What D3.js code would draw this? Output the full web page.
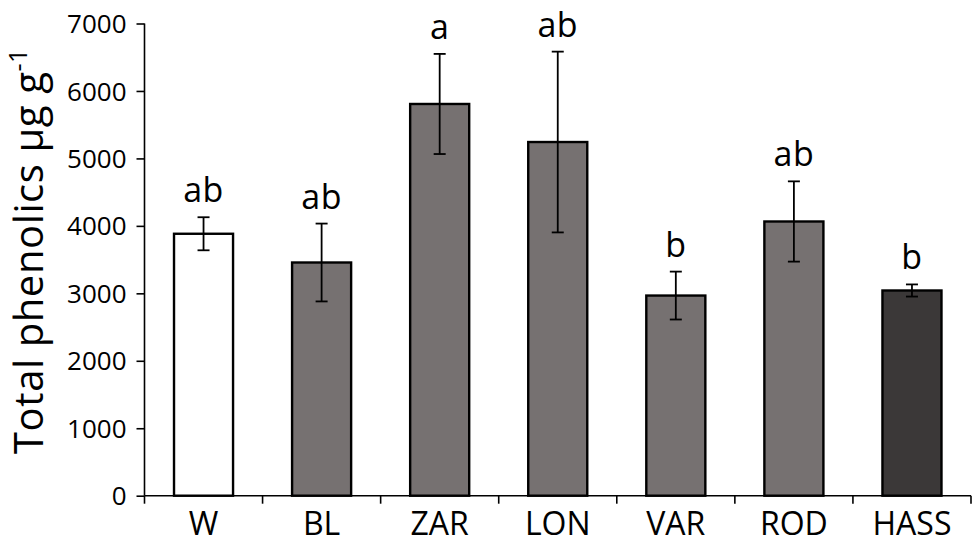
<!DOCTYPE html>
<html>
<head>
<meta charset="utf-8">
<script src="https://cdn.jsdelivr.net/npm/d3@7"></script>
<style>
	body { margin: 0; background: #fff; }
	svg text { font-family: "Open Sans", sans-serif; fill: #000; }
</style>
</head>
<body>
<svg id="chart" width="976" height="544"></svg>
<script>
// values
const cultivars = ["W", "BL", "ZAR", "LON", "VAR", "ROD", "HASS"];
const phenolics = [3883, 3457, 5807, 5243, 2967, 4065, 3042];
const errors = [245, 577, 742, 1340, 355, 595, 90];
const letters = ["ab", "ab", "a", "ab", "b", "ab", "b"];
const barColors = ["#ffffff", "#767171", "#767171", "#767171", "#767171", "#767171", "#3b3838"];
const yTicks = [0, 1000, 2000, 3000, 4000, 5000, 6000, 7000];

const svg = d3.select("#chart");
const plot = { left: 144.5, right: 971, top: 23.5, bottom: 495.7 };

let data = cultivars.map((c, i) => ({
	name: c,
	value: phenolics[i],
	err: errors[i],
	letter: letters[i],
	color: barColors[i],
}));

let x = d3
	.scaleBand()
	.domain(cultivars)
	.range([plot.left, plot.right])
	.paddingInner(0.5)
	.paddingOuter(0.25);

let y = d3.scaleLinear().domain([0, 7000]).range([plot.bottom, plot.top]);

// y axis
let yAxisG = svg
	.append("g")
	.attr("transform", `translate(${plot.left}, 0)`)
	.call(d3.axisLeft(y).tickValues(yTicks).tickSize(8).tickPadding(10).tickFormat(d3.format("d")));
yAxisG.select(".domain").attr("stroke-width", 1.6).attr("d", `M0,${plot.top}V${plot.bottom}`);
yAxisG.selectAll(".tick line").attr("stroke-width", 1.6);
yAxisG.selectAll(".tick text").attr("font-size", 26).attr("font-family", "Open Sans").attr("dy", "0.35em");

// bars
svg.append("g")
	.selectAll("rect")
	.data(data)
	.join("rect")
	.attr("x", (d) => x(d.name))
	.attr("y", (d) => y(d.value))
	.attr("width", x.bandwidth())
	.attr("height", (d) => y(0) - y(d.value))
	.attr("fill", (d) => d.color)
	.attr("stroke", "#000")
	.attr("stroke-width", 2.4);

// error bars
let errG = svg.append("g").attr("stroke", "#000").attr("stroke-width", 1.8);
errG.selectAll("line.v")
	.data(data)
	.join("line")
	.attr("class", "v")
	.attr("x1", (d) => x(d.name) + x.bandwidth() / 2)
	.attr("x2", (d) => x(d.name) + x.bandwidth() / 2)
	.attr("y1", (d) => y(d.value + d.err))
	.attr("y2", (d) => y(d.value - d.err));
["hi", "lo"].forEach((k) => {
	errG.selectAll("line." + k)
		.data(data)
		.join("line")
		.attr("class", k)
		.attr("x1", (d) => x(d.name) + x.bandwidth() / 2 - 6)
		.attr("x2", (d) => x(d.name) + x.bandwidth() / 2 + 6)
		.attr("y1", (d) => y(k === "hi" ? d.value + d.err : d.value - d.err))
		.attr("y2", (d) => y(k === "hi" ? d.value + d.err : d.value - d.err));
});

// x axis: category ticks sit on the band boundaries
let xAxisG = svg.append("g");
xAxisG.append("line")
	.attr("x1", plot.left)
	.attr("x2", plot.right)
	.attr("y1", plot.bottom)
	.attr("y2", plot.bottom)
	.attr("stroke", "#000")
	.attr("stroke-width", 1.6);
let bounds = d3.range(cultivars.length + 1).map((i) => plot.left + i * x.step());
xAxisG.selectAll("line.tk")
	.data(bounds)
	.join("line")
	.attr("class", "tk")
	.attr("x1", (d) => d)
	.attr("x2", (d) => d)
	.attr("y1", plot.bottom)
	.attr("y2", plot.bottom + 8)
	.attr("stroke", "#000")
	.attr("stroke-width", 1.6);
xAxisG.selectAll("text")
	.data(cultivars)
	.join("text")
	.attr("x", (d) => x(d) + x.bandwidth() / 2)
	.attr("y", 535)
	.attr("text-anchor", "middle")
	.attr("font-size", 32)
	.text((d) => d);

// significance letters
svg.append("g")
	.selectAll("text")
	.data(data)
	.join("text")
	.attr("x", (d) => x(d.name) + x.bandwidth() / 2)
	.attr("y", (d) => y(d.value + d.err) - 15)
	.attr("text-anchor", "middle")
	.attr("font-size", 34)
	.attr("letter-spacing", 0.5)
	.text((d) => d.letter);

// y title
let title = svg
	.append("text")
	.attr("transform", `translate(42.5, 251) rotate(-90)`)
	.attr("text-anchor", "middle")
	.attr("font-size", 40)
	.attr("letter-spacing", 0.6);
title.append("tspan").text("Total phenolics μg g");
title.append("tspan").attr("font-size", 25).attr("dy", -16).text("-1");
</script>
</body>
</html>
